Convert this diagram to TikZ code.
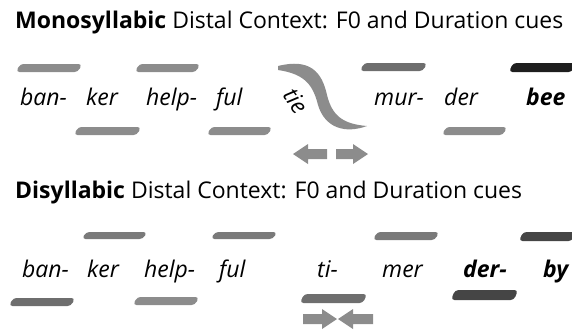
\documentclass[tikz,border=0pt]{standalone}
\usepackage{fontspec}
\setmainfont{Open Sans}
\definecolor{g1}{HTML}{8C8C8C}
\definecolor{g2}{HTML}{6E6E6E}
\definecolor{g3}{HTML}{7A7A7A}
\definecolor{g4}{HTML}{454545}
\definecolor{g5}{HTML}{1E1E1E}
\newcommand{\sbar}[5]{\fill[#5, rounded corners=3.5pt] (#1,#4) -- ({#2-4},#4) -- (#2,#3) -- ({#1+4},#3) -- cycle;}
\newcommand{\larrow}[3]{\fill[g1] (#1,#3) -- ({#1+15},{#3-10}) -- ({#1+15},{#3-5}) -- (#2,{#3-5}) -- (#2,{#3+5}) -- ({#1+15},{#3+5}) -- ({#1+15},{#3+10}) -- cycle;}
\newcommand{\rarrow}[3]{\fill[g1] (#1,#3) -- ({#1-15},{#3-10}) -- ({#1-15},{#3-5}) -- (#2,{#3-5}) -- (#2,{#3+5}) -- ({#1-15},{#3+5}) -- ({#1-15},{#3+10}) -- cycle;}
\begin{document}
\begin{tikzpicture}[x=1pt,y=-1pt,
  title/.style={anchor=base west, inner sep=0pt, font=\fontsize{23}{27}\selectfont},
  word/.style={anchor=base west, inner sep=0pt, font=\fontsize{23}{27}\selectfont\itshape},
  bword/.style={word, font=\fontsize{23}{27}\selectfont\bfseries\itshape}]
\useasboundingbox (0,0) rectangle (572,333);
% titles
\node[title] (t1) at (15,28) {\textbf{Monosyllabic} Distal Context: F0 and Duration cues};
\node[title] (t2) at (15,198) {\textbf{Disyllabic} Distal Context: F0 and Duration cues};
% row 1 bars
\sbar{16}{82}{64}{72}{g1}
\sbar{135}{200}{64}{72}{g1}
\sbar{360}{427}{63}{71}{g2}
\sbar{509}{576}{63}{72}{g5}
\sbar{74}{141}{127}{135}{g1}
\sbar{207}{272}{127}{135}{g1}
\sbar{442}{507}{127}{135}{g1}
% S curve
\fill[g1] (278,66) .. controls (310,58) and (322,72) .. (327,95)
  .. controls (332,115) and (342,124) .. (367,126)
  .. controls (345,134) and (325,128) .. (318,105)
  .. controls (313,85) and (305,74) .. (278,70) -- cycle;
% row 1 words
\node[word] (w1) at (20,105) {ban-};
\node[word] (w2) at (86,105) {ker};
\node[word] (w3) at (146,105) {help-};
\node[word] (w4) at (216,105) {ful};
\node[word, anchor=center, rotate=-55] (w5) at (296,101) {tie};
\node[word] (w6) at (374,105) {mur-};
\node[word] (w7) at (444,105) {der};
\node[bword] (w8) at (526,105) {bee};
% row 1 arrows
\larrow{293}{327}{154}
\rarrow{368}{336}{154}
% row 2 bars
\sbar{82}{147}{232}{239}{g3}
\sbar{211}{277}{232}{239}{g3}
\sbar{373}{439}{232}{240}{g3}
\sbar{519}{576}{232}{241}{g4}
\sbar{9}{75}{298}{306}{g2}
\sbar{133}{199}{297}{305}{g1}
\sbar{300}{367}{294}{303}{g2}
\sbar{451}{518}{290}{300}{g4}
% row 2 words
\node[word] (v1) at (22,277) {ban-};
\node[word] (v2) at (87,277) {ker};
\node[word] (v3) at (144,277) {help-};
\node[word] (v4) at (219,277) {ful};
\node[word] (v5) at (317,277) {ti-};
\node[word] (v6) at (382,277) {mer};
\node[bword] (v7) at (463,277) {der-};
\node[bword] (v8) at (543,277) {by};
% row 2 arrows
\rarrow{337}{303}{319}
\larrow{338}{373}{319}
\end{tikzpicture}
\end{document}
